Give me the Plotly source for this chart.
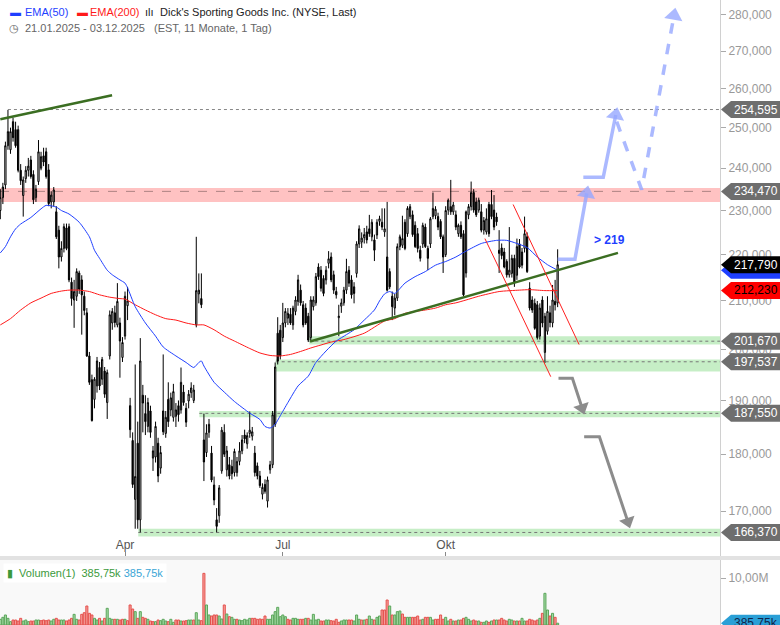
import numpy as np
import pandas as pd
import plotly.graph_objects as go

# Handelstage NYSE (Wochenenden und Feiertage entfallen)
holidays = ["2025-02-17", "2025-04-18", "2025-05-26", "2025-06-19", "2025-07-04",
            "2025-09-01", "2025-11-27", "2025-12-25", "2026-01-01", "2026-01-19",
            "2026-02-16"]
dates = [d for d in pd.bdate_range("2025-01-21", "2025-12-03")
         if d.strftime("%Y-%m-%d") not in holidays]

# Tageskerzen Dick's Sporting Goods (USD)
opens = [230, 233, 236, 245.5, 244.5, 251.5, 249.5, 249.5, 239.5, 233.5,
         237.5, 239.5, 242, 238.5, 233, 236.8, 240, 243, 244, 239.6,
         232, 232, 229.7, 225.5, 219.5, 221.4, 226, 226.3, 214, 210.2,
         211, 216, 214.5, 211, 207.5, 198.7, 194, 190.2, 192.8, 196.4,
         194.1, 195.7, 189.6, 198.7, 205.4, 207.5, 205, 205.4, 198.4, 202.7,
         209, 189, 182.5, 172, 182, 168.5, 191, 187.5, 185.1, 188,
         179.3, 179.5, 182, 177.5, 188, 183.8, 190.2, 188.2, 186.8, 187,
         189, 188.2, 191.6, 188.5, 189.9, 191.5, 190, 205, 211.5, 210.5,
         182.6, 180.3, 184, 180.2, 174.5, 168.5, 169.2, 177, 184, 177.2,
         178.1, 177.8, 176.7, 176.7, 178.7, 180.6, 183.5, 181.9, 183.8, 183.3,
         180.2, 177.9, 176.1, 172.9, 174.6, 171.7, 177.2, 178.1, 185.5, 203.3,
         203.9, 202.4, 205.4, 206.4, 207.2, 205, 207.8, 209.9, 212.3, 209.2,
         208.5, 206.8, 202.4, 208.8, 209.6, 217.3, 216.6, 214.8, 214.5, 218.1,
         219.5, 215.6, 212, 206.5, 208.9, 209.6, 212.3, 216.6, 214.5, 213,
         215.9, 222.4, 222.8, 223.8, 225.1, 225.8, 224, 223.3, 224.4, 227.5,
         227.3, 225.1, 219.5, 216.3, 211, 208.5, 210.6, 221.8, 222.1, 227.3,
         224.7, 228.6, 229, 226.6, 224.7, 221, 222.4, 226.2, 221.4, 222.4,
         228.6, 228.8, 228.6, 227.5, 224, 220, 230.1, 230.9, 229.7, 229,
         224.7, 226.6, 224.7, 216, 229, 230.9, 234.2, 232, 230.1, 229.7,
         225.5, 225.1, 231.4, 231.4, 230.1, 228.5, 221, 221.5, 220.6, 218.5,
         215.6, 215.9, 219.2, 215.5, 222.4, 220.6, 221.4, 224, 212.7, 210.2,
         209.5, 209.2, 202.7, 210.2, 199.4, 203.7, 207.5, 205.4, 209.9, 209.6]
highs = [235, 236.5, 246.5, 254.5, 250, 252.5, 251.5, 250.5, 241, 238,
         240.5, 242.5, 243, 239.5, 236, 246.9, 244, 245, 245, 241,
         234.5, 235.5, 231, 226.5, 223, 227, 227, 227, 215, 214.5,
         217, 216.5, 215.5, 212, 208.5, 199.5, 195, 194.5, 198.5, 197.5,
         198.5, 196.5, 196, 208, 208.5, 209, 213.8, 206.5, 202.5, 212,
         213, 190.5, 184, 197, 186, 202.3, 193, 191, 190.5, 189,
         181.5, 186, 183, 181.5, 199, 188, 193.5, 191.5, 193.2, 189.5,
         190, 196.4, 193, 189.5, 192, 193.5, 193, 224, 215.9, 215.9,
         187.5, 185.5, 186.5, 181.5, 176, 170.5, 174.5, 185, 185.5, 181.5,
         179.5, 179, 181, 179.5, 182.2, 183.5, 184.5, 184, 187.9, 185,
         181.5, 178.5, 177, 174.8, 175.5, 176, 178.8, 188, 197.4, 206.6,
         205, 209.6, 208.5, 208.5, 208.5, 209, 211, 215.6, 213.5, 210,
         209.5, 207.5, 211, 211, 216, 218.1, 217.5, 215.5, 217.5, 220.8,
         220.5, 216.5, 213, 209.2, 210.5, 213, 219.1, 217.5, 215.5, 214,
         223, 226.6, 225, 226, 226.5, 229, 228, 224.5, 228, 228.8,
         230.5, 230.5, 232, 217, 212, 211.5, 222.5, 224.5, 228.8, 228,
         231, 231.5, 230, 227.5, 226, 222, 227.2, 227, 222, 228.5,
         234.2, 231, 229.5, 228, 224.5, 231, 232.8, 237.2, 232, 230,
         227, 227.5, 225.5, 230, 231.5, 236.8, 235, 233, 233, 231.5,
         228.5, 230.5, 232, 234.8, 233.6, 229.5, 225.5, 222.5, 221.5, 219,
         226.2, 220, 220, 223.6, 223.5, 221.5, 228.6, 225, 214, 211,
         210.5, 210, 209.5, 211, 207.5, 211, 209, 213.4, 214.5, 221.2]
lows = [228, 231.5, 235, 244.5, 243.5, 246.5, 245, 239, 236, 228.6,
        236.5, 238, 237.5, 231.5, 232, 236, 239.5, 240.5, 237.5, 231,
        230.5, 231, 223.5, 217, 218.5, 220.5, 221, 214, 209, 204.4,
        210, 211.5, 203, 207, 198.5, 193, 186, 188.5, 191.5, 192,
        193, 190.5, 186.5, 198, 204, 204.5, 204.5, 194.4, 197.5, 202,
        206, 183, 174, 167, 167, 166.4, 184, 183.5, 184, 183,
        177, 178.5, 175, 176.5, 183.5, 183, 185, 187, 186, 185,
        186, 187.5, 189, 185, 188.5, 190.5, 189.5, 204.5, 209.5, 208.5,
        175.2, 179.5, 183, 175, 171, 166.4, 168, 176.5, 179.5, 176,
        175.5, 175.5, 176, 176, 178, 180, 182, 181, 183, 182.5,
        176, 175.5, 174, 172, 173, 170.6, 176.5, 177.5, 185, 197,
        198, 201.5, 204.5, 205, 205, 204, 207, 209, 209, 204.5,
        205, 201.5, 201.7, 208, 209, 214.5, 212, 211, 213.5, 217,
        214, 211.5, 210.5, 202.7, 207.5, 209, 211.5, 213, 210.5, 209.5,
        215, 221.5, 221.5, 222.5, 222.5, 224, 223, 218.6, 223.5, 226.5,
        225.5, 224, 212, 212.5, 206, 207, 210, 221, 221.5, 221,
        224, 228, 224, 221.5, 220.5, 218.5, 221.5, 221.5, 216.6, 221.5,
        228, 228, 225.5, 223.5, 216, 219.5, 229, 229, 229, 225.5,
        224, 223.5, 211, 215, 228, 230, 229.5, 228.5, 229.5, 225,
        224.5, 224.5, 224, 228, 225.5, 226.5, 216, 219, 217, 215,
        215, 215, 213, 214.5, 217, 217, 220.5, 216, 208, 207.5,
        204, 202, 202, 204.5, 197.3, 203, 204.5, 204.5, 208, 208.7]
closes = [233, 235.5, 245.5, 249, 249, 247.5, 245.5, 239.5, 237, 237.2,
          239.5, 240.5, 238, 232.5, 235, 244, 242.8, 241.5, 238, 231.6,
          233.6, 234.8, 224, 219.5, 221.4, 226.3, 221.4, 214.5, 210.5, 212,
          216.3, 212.5, 211.3, 208, 198.7, 193.5, 186.2, 194.1, 197.7, 192.8,
          198, 191.2, 195.4, 207.1, 207.8, 205.5, 209.9, 201.7, 201.4, 211,
          210, 184.5, 174.6, 176, 168.5, 197.7, 189.5, 186, 189.6, 184,
          180.6, 185.1, 176.1, 180.3, 184.1, 186.8, 186, 190.5, 191.7, 188.2,
          187.3, 193.5, 189.6, 185.9, 191.2, 192.4, 192, 212.2, 212.3, 209.2,
          178.6, 183.9, 185.5, 175.4, 171.9, 167.4, 174, 184.4, 180, 180.6,
          176.1, 176.5, 180.5, 178.7, 180.6, 182.6, 182.8, 183.4, 184.4, 184.1,
          176.7, 176.1, 174.4, 174.1, 173.4, 175.4, 178.1, 187.3, 196.5, 197.7,
          198.7, 205.4, 207.8, 207.4, 205.4, 208.5, 210.2, 214.5, 209.6, 205,
          205.4, 201.9, 210.2, 210.2, 215.2, 215.2, 212.7, 211.6, 216.6, 219.1,
          214.5, 212.3, 211.3, 206.8, 209.6, 212.3, 216.3, 213.8, 211.3, 211.6,
          222.4, 225.8, 223.7, 224.5, 223.3, 224.7, 227.3, 221, 227.3, 228.1,
          226.2, 225.8, 212.3, 213, 208.8, 210.6, 221.8, 224, 223.6, 221.4,
          230.5, 230.9, 224.5, 221.8, 221.4, 219.2, 226.6, 221.8, 219.2, 228.1,
          230.5, 230.3, 226.2, 224, 219.5, 230, 232.4, 229.7, 231.3, 226.2,
          226.6, 224, 211.3, 229.7, 230.9, 234.2, 230.1, 229, 232.4, 225.5,
          227.7, 228.1, 224.7, 228.6, 226.2, 227.4, 220.3, 219.8, 217.3, 215.6,
          216.6, 219.2, 213.8, 221.8, 217.3, 217.7, 224.7, 216.3, 208.5, 208.1,
          204.3, 202.4, 208.5, 205.4, 206.8, 207.8, 205.5, 210.2, 209.2, 217.79]

# Volumen in Mio. Stück
volumes = [1.21, 1.63, 2.13, 1.42, 0.71, 1.06, 1.06, 0.85, 1.42, 0.85,
           1.06, 0.71, 0.85, 0.85, 1.06, 1.06, 0.92, 1.06, 0.92, 1.06,
           0.85, 1.21, 1.42, 1.06, 1.06, 1.06, 0.85, 1.06, 1.42, 2.27,
           1.21, 1.06, 2.27, 2.62, 4.04, 2.48, 2.13, 1.42, 1.06, 1.42,
           0.85, 1.42, 3.55, 1.42, 1.21, 1.21, 1.21, 1.06, 1.21, 1.21,
           0.92, 4.26, 3.40, 2.84, 1.42,
           2.84, 1.63, 1.42, 1.21, 0.85, 0.71, 0.71, 1.06, 0.92, 1.21,
           0.85, 0.71, 1.21, 0.57, 1.06, 1.06, 0.85, 0.85, 0.92, 1.06,
           1.06, 1.06, 2.62, 1.06, 0.92, 10.99, 4.26, 2.13, 1.91, 2.13,
           2.13, 1.91, 1.28, 4.26, 2.34, 1.77, 1.63, 1.21, 1.21, 1.06,
           0.92, 1.21, 1.06, 1.42, 1.42, 1.42, 1.21, 1.28, 1.21, 1.91,
           1.21, 1.21, 2.13, 2.84, 3.76, 1.77, 2.13, 1.77,
           1.21, 1.06, 1.42, 1.42, 1.21, 1.21, 1.21, 1.42, 1.42, 1.06,
           2.27, 1.06, 1.21, 0.85, 0.85, 1.06, 1.06, 0.92, 0.85, 1.21,
           0.57, 0.85, 1.06, 1.06, 1.06, 1.06, 0.85, 2.13, 1.21, 1.06,
           1.06, 1.21, 1.91, 1.21, 1.06, 1.63, 1.91, 3.19, 3.19, 5.32,
           4.04, 2.13, 2.13, 2.84, 2.98, 2.34, 1.63, 1.63, 1.63, 1.63,
           1.63, 1.91, 1.06, 1.21, 1.63,
           1.63, 1.63, 1.06, 1.21, 1.21, 2.13, 1.21, 1.63, 0.85, 1.21,
           0.85, 0.85, 1.06, 1.06, 1.42, 1.63, 1.21, 0.85, 1.06, 0.85,
           0.85, 0.57, 0.57, 0.85, 0.57, 0.85, 1.06, 1.06, 1.06, 1.42,
           1.06, 0.85, 1.21, 1.06, 0.85, 0.85, 0.85, 1.42, 0.85, 0.85,
           1.21, 1.06, 0.85, 1.06, 1.42, 2.48, 6.74, 3.19, 1.91, 2.48,
           1.63, 0.386]

# gleitende Durchschnitte (Stützstellen = Handelstag-Index)
ema50_idx = [0, 2, 4, 6, 8, 12, 16, 18, 22, 24, 27, 31, 35, 37, 39, 42, 44, 47, 49, 50,
             53, 57, 61, 64, 69, 73, 76, 78, 79, 80, 84, 88, 92, 98, 102, 104, 106, 108,
             110, 113, 117, 121, 124, 128, 132, 136, 139, 143, 147, 149, 151, 153, 155,
             159, 163, 167, 171, 175, 179, 183, 189, 195, 199, 203, 207, 211, 215, 219]
ema50_val = [220.4, 221.8, 224, 225.8, 226.9, 228.4, 230.4, 231.2, 230.8, 230, 229.2,
             227.3, 224, 221, 219.2, 216.6, 215.6, 214.5, 213.8, 212.8, 208.8, 205.4,
             202.7, 200.5, 198.7, 197.4, 196.4, 197.4, 197.7, 196.7, 193.5, 191.6, 189.8,
             187.6, 186.4, 185.1, 184.8, 185.5, 187.1, 189.6, 192.8, 194.7, 197.4, 199.7,
             201.7, 203, 204, 206, 208.1, 210, 211.5, 212, 211.6, 213.8, 215.2, 216.3,
             217.7, 218.5, 219.5, 220.8, 222.5, 223.2, 223.2, 222.5, 221.6, 219.5, 217.8,
             216.6]
ema200_idx = [0, 4, 8, 12, 16, 20, 24, 27, 31, 35, 39, 43, 47, 49, 53, 57, 61, 65, 69,
              73, 77, 80, 84, 88, 92, 98, 102, 106, 110, 114, 118, 122, 126, 130, 135,
              143, 151, 155, 159, 167, 171, 175, 179, 183, 188, 196, 204, 208, 214, 219]
ema200_val = [205, 206.3, 208.1, 209.6, 210.6, 211.6, 212.1, 212.3, 212.3, 212, 211.3,
              210.8, 210.5, 210.4, 209.2, 208.1, 207.1, 206.3, 206, 205.4, 205, 205, 204,
              202.7, 201.7, 200.2, 199.3, 198.8, 198.7, 199, 199.6, 200.3, 200.9, 201.5,
              202, 203.3, 205.8, 206.3, 207.4, 208.1, 208.5, 209.2, 209.6, 210.2, 211,
              212, 212.3, 212.4, 212.2, 212.2]

# Zonen und Marken
resist_level, resist_lo, resist_hi = 234.470, 232.0, 235.3
top_level = 254.595
support_levels = [201.670, 197.537, 187.550, 166.370]
support_lo = [201.0, 195.6, 186.8, 165.7]
support_hi = [202.7, 198.0, 188.0, 167.0]
support_start = ["2025-07-16T10:00", "2025-06-26T05:00", "2025-05-13T05:00", "2025-04-08T05:00"]

# Trendlinien / Kanal
trend_top_x = ["2025-01-21", "2025-03-24T22:00"]
trend_top_y = [252.1, 258.3]
trend_main_x = ["2025-07-16T17:00", "2026-01-07T17:00"]
trend_main_y = [201.6, 220.4]
chan1_x = ["2025-10-22T10:00", "2025-11-28T07:00"]
chan1_y = [223.6, 194.6]
chan2_x = ["2025-11-06T12:00", "2025-12-15T10:00"]
chan2_y = [231.4, 201.0]

# Szenario-Pfeile
blue1_x = ["2025-12-03", "2025-12-11T19:00", "2025-12-18T10:00"]
blue1_y = [219.0, 219.0, 234.0]
blue2_x = ["2025-12-17T02:00", "2025-12-29T22:00", "2026-01-06T20:00"]
blue2_y = [237.8, 237.8, 253.2]
blue3_x = ["2026-01-07T05:00", "2026-01-22", "2026-02-09T17:00"]
blue3_y = [251.5, 234.9, 279.8]
gray1_x = ["2025-12-03T08:00", "2025-12-10T19:00", "2025-12-16T14:00"]
gray1_y = [194.3, 194.3, 188.6]
gray2_x = ["2025-12-17T10:00", "2025-12-26T10:00", "2026-01-13T14:00"]
gray2_y = [183.2, 183.2, 168.2]

month_ticks = ["2025-04-01", "2025-07-01", "2025-10-01"]
month_labels = ["Apr", "Jul", "Okt"]
price_ticks = [170, 180, 190, 200, 210, 220, 230, 240, 250, 260, 270, 280]
price_labels = ["170,000", "180,000", "190,000", "200,000", "210,000", "220,000",
                "230,000", "240,000", "250,000", "260,000", "270,000", "280,000"]
last_close = closes[-1]
ema50_last = ema50_val[-1]
ema200_last = 212.230
last_volume = volumes[-1]

x_start = "2025-01-20T21:00"
x_end = "2026-03-06T19:00"
rb = [dict(bounds=["sat", "mon"]), dict(values=holidays)]
FONT = "Liberation Sans, Arial, sans-serif"
W = 720.0  # Breite der Zeichenfläche in px

fig = go.Figure()

# Linien EMA
fig.add_trace(go.Scatter(x=[dates[i] for i in ema200_idx], y=ema200_val, mode="lines",
                         line=dict(color="#ff1a1a", width=1, shape="spline", smoothing=0.6),
                         hoverinfo="skip"))
fig.add_trace(go.Scatter(x=[dates[i] for i in ema50_idx], y=ema50_val, mode="lines",
                         line=dict(color="#1f3fff", width=1, shape="spline", smoothing=0.6),
                         hoverinfo="skip"))

# Kerzen
fig.add_trace(go.Candlestick(
    x=dates, open=opens, high=highs, low=lows, close=closes,
    increasing=dict(line=dict(color="black", width=1), fillcolor="white"),
    decreasing=dict(line=dict(color="black", width=1), fillcolor="black"),
    whiskerwidth=0, hoverinfo="skip"))

# Trendlinien
for xs, ys in [(trend_top_x, trend_top_y), (trend_main_x, trend_main_y)]:
    fig.add_trace(go.Scatter(x=xs, y=ys, mode="lines",
                             line=dict(color="#3b6e22", width=2.5), hoverinfo="skip"))
for xs, ys in [(chan1_x, chan1_y), (chan2_x, chan2_y)]:
    fig.add_trace(go.Scatter(x=xs, y=ys, mode="lines",
                             line=dict(color="#ff2020", width=1), hoverinfo="skip"))

# Pfeile
BLUE = "rgba(150,168,255,0.8)"
GRAY = "#8c8c8c"


def add_arrow(xs, ys, color, angle, symbol, dash="solid", width=3.5, size=16):
    fig.add_trace(go.Scatter(x=xs, y=ys, mode="lines",
                             line=dict(color=color, width=width, dash=dash), hoverinfo="skip"))
    fig.add_trace(go.Scatter(x=[xs[-1]], y=[ys[-1]], mode="markers",
                             marker=dict(symbol=symbol, size=size, color=color, angle=angle),
                             hoverinfo="skip"))


add_arrow(blue1_x, blue1_y, BLUE, 10, "triangle-up")
add_arrow(blue2_x, blue2_y, BLUE, 11, "triangle-up")
add_arrow(blue3_x, blue3_y, BLUE, 10, "triangle-up", dash="dash")
add_arrow(gray1_x, gray1_y, GRAY, -18, "triangle-down", width=3, size=14)
add_arrow(gray2_x, gray2_y, GRAY, -18, "triangle-down", width=3, size=14)

# Volumen
up = [closes[0] >= opens[0]] + [closes[i] >= closes[i - 1] for i in range(1, len(closes))]
fig.add_trace(go.Bar(
    x=dates, y=volumes, xaxis="x2", yaxis="y2",
    marker=dict(color=["#a6dba6" if u else "#f5a19d" for u in up],
                line=dict(color=["#5aa55a" if u else "#e5504c" for u in up], width=1)),
    hoverinfo="skip"))

shapes = []
# Widerstandszone
shapes.append(dict(type="rect", xref="x", yref="y", x0=x_start, x1=x_end,
                   y0=resist_lo, y1=resist_hi, fillcolor="rgba(255,110,110,0.42)",
                   line=dict(width=0), layer="below"))
shapes.append(dict(type="line", xref="x", yref="y", x0=x_start, x1=x_end,
                   y0=resist_level, y1=resist_level,
                   line=dict(color="rgba(120,90,90,0.6)", width=1, dash="dash"), layer="below"))
shapes.append(dict(type="line", xref="x", yref="y", x0=dates[3], x1=x_end,
                   y0=top_level, y1=top_level,
                   line=dict(color="#888", width=1, dash="dot"), layer="below"))
for lvl, lo, hi, st in zip(support_levels, support_lo, support_hi, support_start):
    shapes.append(dict(type="rect", xref="x", yref="y", x0=st, x1=x_end, y0=lo, y1=hi,
                       fillcolor="rgba(120,215,120,0.42)", line=dict(width=0), layer="below"))
    shapes.append(dict(type="line", xref="x", yref="y", x0=st, x1=x_end, y0=lvl, y1=lvl,
                       line=dict(color="#777", width=1, dash="dot"), layer="below"))

# Trenner + Volumen-Hintergrund
shapes.append(dict(type="rect", xref="paper", yref="paper", x0=0, x1=1, y0=0, y1=0.104,
                   fillcolor="#f9f9f9", line=dict(width=0), layer="below"))
shapes.append(dict(type="rect", xref="paper", yref="paper", x0=0, x1=780 / W, y0=0.104,
                   y1=0.1104, fillcolor="#e2e2e2", line=dict(width=0), layer="above"))

annotations = []
k = np.exp(8.5 * 0.001006)
X_TIP, X_BODY, X_END, X_TXT = 721 / W, 731 / W, 780 / W, 755.5 / W


def price_tag(level, bg, fg, text):
    shapes.append(dict(type="path", xref="paper", yref="y", layer="above",
                       path=f"M {X_TIP},{level} L {X_BODY},{level * k} L {X_END},{level * k} "
                            f"L {X_END},{level / k} L {X_BODY},{level / k} Z",
                       fillcolor=bg, line=dict(width=0)))
    if text:
        annotations.append(dict(xref="paper", yref="y", x=X_TXT, y=np.log10(level), text=text,
                                xanchor="center", yanchor="middle", showarrow=False,
                                font=dict(color=fg, size=12, family=FONT)))


def fmt(v):
    return f"{v:.3f}".replace(".", ",")


for lvl in [top_level, resist_level] + support_levels:
    price_tag(lvl, "#6e6e6e", "white", fmt(lvl))
price_tag(ema50_last, "#1f3fff", "white", "")
price_tag(last_close, "black", "white", fmt(last_close))
price_tag(ema200_last, "#ff0000", "black", fmt(ema200_last))

# Volumen-Marke
dv = 8.5 / 4.7
shapes.append(dict(type="path", xref="paper", yref="y2", layer="above",
                   path=f"M {X_TIP},{last_volume} L {X_BODY},{last_volume + dv} "
                        f"L {X_END},{last_volume + dv} L {X_END},{last_volume - dv} "
                        f"L {X_BODY},{last_volume - dv} Z",
                   fillcolor="#2a9fd6", line=dict(width=0)))
annotations.append(dict(xref="paper", yref="y2", x=X_TXT, y=last_volume, text="385,75k",
                        xanchor="center", yanchor="middle", showarrow=False,
                        font=dict(color="#10244a", size=12, family=FONT)))

# Texte
annotations.append(dict(xref="x", yref="y", x="2026-01-02T05:00", y=np.log10(223.3),
                        text="<b>&gt; 219</b>", showarrow=False, xanchor="center",
                        font=dict(color="#1f3fff", size=12, family=FONT)))

header = [
    (8, 12, "▬", "#1f3fff"), (23, 12, "EMA(50)", "#1f3fff"),
    (75, 12, "▬", "#ff1a1a"), (88, 12, "EMA(200)", "#ff1a1a"),
    (143, 12, "ılı", "#222"), (158, 12, "Dick's Sporting Goods Inc. (NYSE, Last)", "#222"),
    (7, 28, "◷", "#666"), (23, 28, "21.01.2025 - 03.12.2025", "#666"),
    (152, 28, "(EST, 11 Monate, 1 Tag)", "#666"),
]
for px, py, txt, col in header:
    annotations.append(dict(xref="paper", yref="paper", x=px / W, y=1 - py / 625,
                            xanchor="left", yanchor="middle", showarrow=False, text=txt,
                            font=dict(size=11, family=FONT, color=col)))
# Volumen-Legende
annotations.append(dict(
    xref="paper", yref="paper", x=3 / W, y=1 - 573 / 625, xanchor="left", yanchor="middle",
    showarrow=False, bgcolor="white", borderpad=3, font=dict(size=11, family=FONT),
    text='<span style="color:#3c9a3c">▮&nbsp;&nbsp;Volumen(1)&nbsp;&nbsp;385,75k</span> '
         '<span style="color:#3aa6d6">385,75k</span>'))

fig.update_layout(
    width=780, height=625, margin=dict(l=0, r=60, t=0, b=0),
    paper_bgcolor="white", plot_bgcolor="white", showlegend=False,
    font=dict(family=FONT, size=12, color="#999"),
    bargap=0.2, shapes=shapes, annotations=annotations,
    xaxis=dict(domain=[0, 1], anchor="y", type="date", range=[x_start, x_end],
               autorange=False, rangebreaks=rb, rangeslider=dict(visible=False),
               tickvals=month_ticks, ticktext=month_labels, ticks="inside", ticklen=4,
               tickcolor="#888", ticklabelposition="inside",
               tickfont=dict(color="#555", size=12), showgrid=False, zeroline=False),
    yaxis=dict(domain=[0.1104, 1], anchor="x", type="log", side="right",
               range=[np.log10(162.48), np.log10(284.25)], autorange=False,
               tickvals=price_ticks, ticktext=price_labels, ticks="outside", ticklen=5,
               tickcolor="#aaa", tickfont=dict(color="#999", size=12),
               showgrid=False, showline=True, linecolor="#d0d0d0", zeroline=False,
               automargin=False),
    xaxis2=dict(domain=[0, 1], anchor="y2", type="date", range=[x_start, x_end],
                autorange=False, rangebreaks=rb,
                showticklabels=False, showgrid=False, zeroline=False),
    yaxis2=dict(domain=[0, 0.104], anchor="x2", side="right", range=[0, 13.83],
                autorange=False, tickvals=[10], ticktext=["10,00M"], ticks="outside",
                ticklen=5, tickcolor="#aaa", tickfont=dict(color="#999", size=12),
                showgrid=False, showline=True, linecolor="#d0d0d0", zeroline=False,
                automargin=False),
)

# Seitenrand des Browsers entfernen, damit die Grafik bei (0,0) beginnt
fig.write_html("out.html", config={"displayModeBar": False},
               post_script="document.body.style.margin='0';")
